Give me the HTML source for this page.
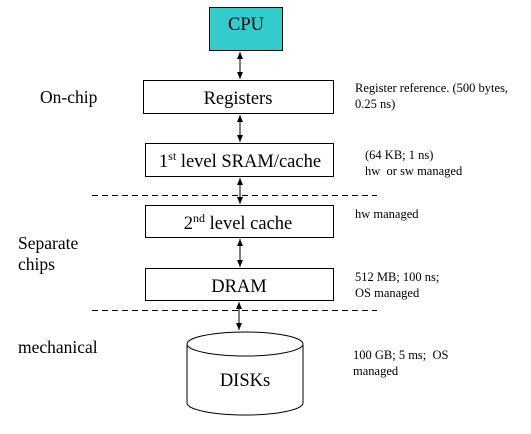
<!DOCTYPE html>
<html><head><style>
body{margin:0;background:#fff;}
text{font-family:"Liberation Serif","Times New Roman",serif !important;}
</style></head><body>
<svg width="531" height="429" viewBox="0 0 531 429" xmlns="http://www.w3.org/2000/svg" font-family="Liberation Serif, serif">
<defs>
<marker id="a" markerWidth="8" markerHeight="8" refX="7" refY="4" orient="auto" markerUnits="userSpaceOnUse">
<path d="M0,1 L7,4 L0,7 z" fill="#000"/></marker>
<marker id="b" markerWidth="8" markerHeight="8" refX="1" refY="4" orient="auto" markerUnits="userSpaceOnUse">
<path d="M8,1 L1,4 L8,7 z" fill="#000"/></marker>
</defs>
<rect x="209.5" y="7.5" width="73" height="43" fill="#33cccc" stroke="#000"/>
<text x="246" y="30" font-size="18.5" text-anchor="middle">CPU</text>
<rect x="143.5" y="80.5" width="190" height="33" fill="#fff" stroke="#000"/>
<text x="238" y="104" font-size="18.5" text-anchor="middle">Registers</text>
<rect x="145.5" y="143.5" width="188" height="33" fill="#fff" stroke="#000"/>
<text x="240" y="167" font-size="18.5" text-anchor="middle">1<tspan font-size="12" dy="-7">st</tspan><tspan dy="7"> level SRAM/cache</tspan></text>
<rect x="145.5" y="205.5" width="188" height="32" fill="#fff" stroke="#000"/>
<text x="238" y="229" font-size="18.5" text-anchor="middle">2<tspan font-size="12" dy="-7">nd</tspan><tspan dy="7"> level cache</tspan></text>
<rect x="145.5" y="268.5" width="188" height="32" fill="#fff" stroke="#000"/>
<text x="239" y="292" font-size="18.5" text-anchor="middle">DRAM</text>
<g stroke="#000" stroke-width="1">
<line x1="240" y1="52" x2="240" y2="79" marker-start="url(#b)" marker-end="url(#a)"/>
<line x1="240" y1="115" x2="240" y2="142" marker-start="url(#b)" marker-end="url(#a)"/>
<line x1="240" y1="178" x2="240" y2="204" marker-start="url(#b)" marker-end="url(#a)"/>
<line x1="240" y1="239" x2="240" y2="267" marker-start="url(#b)" marker-end="url(#a)"/>
<line x1="239" y1="302" x2="239" y2="330" marker-start="url(#b)" marker-end="url(#a)"/>
</g>
<g stroke="#000" stroke-dasharray="6,4">
<line x1="92" y1="195.5" x2="377" y2="195.5"/>
<line x1="92" y1="310.5" x2="377" y2="310.5"/>
</g>
<path d="M187,345 L187,403 A58,12 0 0 0 303,403 L303,345" fill="#fff" stroke="#000"/>
<ellipse cx="245" cy="344" rx="58" ry="12" fill="#fff" stroke="#000"/>
<text x="245" y="386" font-size="18.5" text-anchor="middle">DISKs</text>
<g font-size="17.5">
<text x="40" y="103">On-chip</text>
<text x="18" y="249">Separate</text>
<text x="18" y="270">chips</text>
<text x="18" y="353">mechanical</text>
</g>
<g font-size="12.5">
<text x="355" y="92">Register reference. (500 bytes,</text>
<text x="355" y="108">0.25 ns)</text>
<text x="365" y="159">(64 KB; 1 ns)</text>
<text x="365" y="175" xml:space="preserve">hw  or sw managed</text>
<text x="355" y="218">hw managed</text>
<text x="355" y="281">512 MB; 100 ns;</text>
<text x="355" y="297">OS managed</text>
<text x="353" y="359" xml:space="preserve">100 GB; 5 ms;  OS</text>
<text x="353" y="375">managed</text>
</g>
</svg>
</body></html>
